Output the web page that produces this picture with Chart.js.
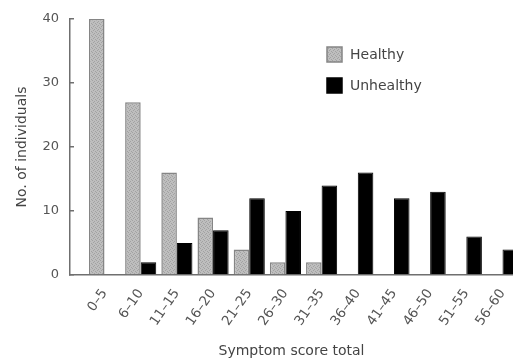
<!DOCTYPE html>
<html>
<head>
<meta charset="utf-8">
<script src="https://cdn.jsdelivr.net/npm/chart.js@4/dist/chart.umd.min.js"></script>
<style>
  body { margin: 0; background: #fff; }
  #chart { display: block; }
</style>
</head>
<body>
<canvas id="chart" width="513" height="360"></canvas>
<script>
// Symptom score groups
const categories = ['0–5', '6–10', '11–15', '16–20', '21–25', '26–30', '31–35', '36–40', '41–45', '46–50', '51–55', '56–60'];
// Number of individuals per group
const healthy = [40, 27, 16, 9, 4, 2, 2, 0, 0, 0, 0, 0];
const unhealthy = [0, 2, 5, 7, 12, 10, 14, 16, 12, 13, 6, 4];
const yTicks = [0, 10, 20, 30, 40];

//Grå prikket mønster til "Healthy" søjlerne
function makePattern() {
    const c = document.createElement('canvas');
    c.width = 4;
    c.height = 4;
    const g = c.getContext('2d');
    g.fillStyle = '#bebebe';
    g.fillRect(0, 0, 4, 4);
    g.fillStyle = '#a2a2a2';
    g.fillRect(0, 0, 1, 1);
    g.fillRect(2, 1, 1, 1);
    g.fillRect(1, 2, 1, 1);
    g.fillRect(3, 3, 1, 1);
    return g.createPattern(c, 'repeat');
}
const healthyFill = makePattern();

// legend drawn inside the plot, like the original
const insideLegend = {
    id: 'insideLegend',
    afterDraw(chart) {
        const ctx = chart.ctx;
        ctx.save();
        ctx.font = '14px "DejaVu Sans"';
        ctx.textBaseline = 'middle';
        chart.data.datasets.forEach(function (ds, i) {
            const x = 327;
            const y = 47 + i * 31;
            ctx.fillStyle = ds.backgroundColor;
            ctx.fillRect(x, y, 15, 15);
            ctx.strokeStyle = ds.borderColor;
            ctx.lineWidth = 1.5;
            ctx.strokeRect(x, y, 15, 15);
            ctx.fillStyle = '#444';
            ctx.fillText(ds.label, x + 23, y + 8);
        });
        ctx.restore();
    }
};

const ctx = document.querySelector('#chart').getContext('2d');
const chart = new Chart(ctx, {
    type: 'bar',
    data: {
        datasets: [{
            label: 'Healthy',
            data: healthy.map((v, i) => ({x: i, y: v})),
            backgroundColor: healthyFill,
            borderColor: '#858585',
            borderWidth: 1.5
        }, {
            label: 'Unhealthy',
            data: unhealthy.map((v, i) => ({x: i, y: v})),
            backgroundColor: '#000',
            borderColor: '#000',
            borderWidth: 1
        }]
    },
    options: {
        responsive: false,
        animation: false,
        devicePixelRatio: 1,
        barPercentage: 1,
        categoryPercentage: 0.86,
        layout: {
            padding: {top: 19, right: 0, bottom: 0, left: 0}
        },
        scales: {
            x: {
                type: 'linear',
                offset: false,
                min: -0.954,
                max: 11.29,
                grid: {
                    display: false,
                    drawTicks: false
                },
                border: {
                    display: true,
                    color: '#6f6f6f',
                    width: 1.5
                },
                afterBuildTicks: function (scale) {
                    scale.ticks = categories.map((c, i) => ({value: i}));
                },
                ticks: {
                    autoSkip: false,
                    minRotation: 55,
                    maxRotation: 55,
                    padding: 11,
                    color: '#555',
                    font: {family: 'DejaVu Sans', size: 13.5},
                    callback: function (value) {
                        return categories[value];
                    }
                },
                title: {
                    display: true,
                    text: 'Symptom score total',
                    color: '#444',
                    font: {family: 'DejaVu Sans', size: 14},
                    padding: {top: 0, bottom: 0}
                },
                afterFit: function (scale) {
                    scale.height = 85;
                    // plottet går helt ud til højre kant
                    scale.paddingLeft = 0;
                    scale.paddingRight = 0;
                }
            },
            y: {
                min: 0,
                max: 40,
                afterBuildTicks: function (scale) {
                    scale.ticks = yTicks.map(v => ({value: v}));
                },
                grid: {
                    drawOnChartArea: false,
                    drawTicks: true,
                    tickLength: -4,
                    color: '#6f6f6f',
                    lineWidth: 1.5
                },
                border: {
                    display: true,
                    color: '#6f6f6f',
                    width: 1.5
                },
                ticks: {
                    padding: 15,
                    color: '#555',
                    font: {family: 'DejaVu Sans', size: 13}
                },
                title: {
                    display: true,
                    text: 'No. of individuals',
                    color: '#444',
                    font: {family: 'DejaVu Sans', size: 14},
                    padding: {top: 14, bottom: 0}
                },
                afterFit: function (scale) {
                    scale.width = 70;
                    scale.paddingTop = 0;
                    scale.paddingBottom = 0;
                }
            }
        },
        plugins: {
            legend: {
                display: false // egen legend i plottet
            },
            tooltip: {
                enabled: false
            }
        }
    },
    plugins: [insideLegend]
});
</script>
</body>
</html>
